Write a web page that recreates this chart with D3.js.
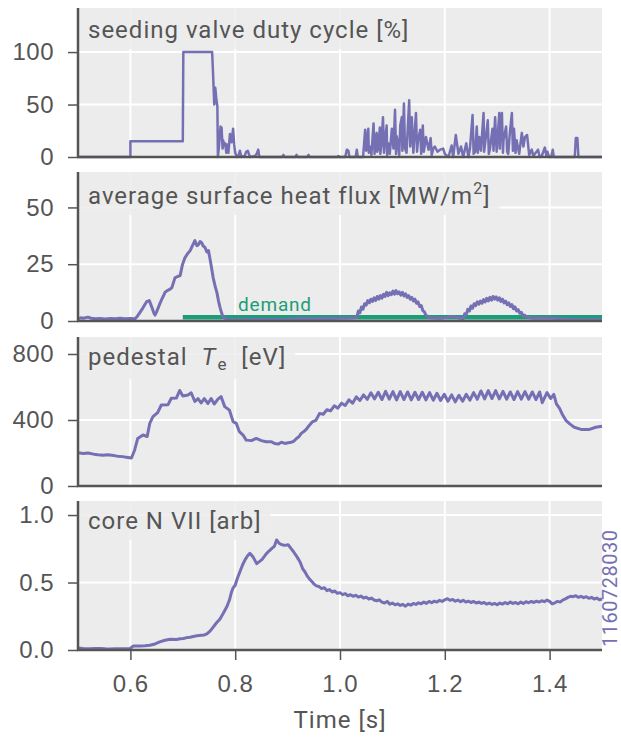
<!DOCTYPE html>
<html>
<head>
<meta charset="utf-8">
<script src="https://cdn.jsdelivr.net/npm/d3@7"></script>
<style>
body{margin:0;background:#fff;}
svg{display:block;font-family:Roboto, "Liberation Sans", sans-serif;}
</style>
</head>
<body>
<svg id="chart"></svg>
<script>
// time [s], value
var dutyCycle = [[0.500,0],[0.600,0],[0.600,15],[0.700,15],[0.701,100],[0.756,100],[0.758,76],[0.760,50],[0.762,66],[0.764,55],[0.766,48],[0.767,0],[0.769,10],[0.772,29],[0.774,28],[0.776,8],[0.777,16],[0.779,11],[0.781,13],[0.783,4],[0.785,12],[0.787,4],[0.790,22],[0.793,14],[0.796,27],[0.798,12],[0.800,4],[0.803,0],[0.806,1],[0.809,6],[0.812,0],[0.818,1],[0.821,5],[0.824,6],[0.828,0],[0.838,1],[0.841,3],[0.844,7],[0.846,0],
  [0.889,0],[0.892,2],[0.894,0],[0.915,0],[0.917,2],[0.919,0],[0.937,0],[0.940,2],[0.942,0],[0.995,0],[0.997,1],[0.999,0],[1.010,0],[1.013,7],[1.016,6],[1.018,0],[1.030,0],[1.032,7],[1.034,0],[1.044,0],
  [1.048,26],[1.050,6],[1.051,12],[1.054,27],[1.055,4],[1.057,10],[1.060,2],[1.064,32],[1.066,3],[1.067,14],[1.070,23],[1.071,5],[1.073,8],[1.076,28],[1.077,3],[1.079,12],[1.082,38],[1.084,4],[1.086,16],[1.089,30],[1.090,2],[1.092,13],[1.095,3],[1.099,27],[1.102,8],[1.105,45],[1.107,3],[1.108,20],[1.111,13],[1.113,2],[1.115,30],[1.118,38],[1.119,6],[1.120,22],[1.122,51],[1.124,8],[1.127,4],[1.132,54],[1.134,10],[1.137,38],[1.140,4],[1.145,42],[1.147,5],[1.149,16],[1.153,26],[1.155,3],[1.158,30],[1.160,5],[1.164,19],[1.169,7],[1.173,18],[1.175,2],[1.178,8],[1.181,10],[1.186,5],[1.191,7],[1.197,8],[1.200,3],[1.207,0],[1.213,11],[1.216,0],[1.221,21],[1.226,3],[1.231,10],[1.235,0],[1.241,13],[1.245,0],[1.248,8],[1.253,40],[1.255,3],[1.258,5],[1.261,29],[1.263,4],[1.266,19],[1.269,6],[1.274,42],[1.275,5],[1.277,13],[1.282,35],[1.284,3],[1.286,7],[1.291,27],[1.293,6],[1.296,38],[1.299,5],[1.304,42],[1.305,8],[1.306,20],[1.309,42],[1.311,4],[1.312,16],[1.317,29],[1.319,5],[1.321,3],[1.324,22],[1.328,42],[1.330,6],[1.332,27],[1.335,4],[1.337,16],[1.342,3],[1.347,23],[1.350,10],[1.353,19],[1.357,21],[1.361,2],[1.366,7],[1.369,1],[1.372,3],[1.378,7],[1.381,0],[1.385,1],[1.391,9],[1.394,1],[1.396,5],[1.399,0],[1.403,0],[1.406,7],[1.408,0],[1.448,0],[1.450,18],[1.453,18],[1.455,0],[1.500,0]];

var heatFlux = [[0.500,1.0],[0.505,1.4],[0.510,1.2],[0.519,1.7],[0.525,1.2],[0.533,1.0],[0.542,1.1],[0.552,0.9],[0.562,1.1],[0.572,1.0],[0.580,1.2],[0.590,1.0],[0.600,1.1],[0.609,1.0],[0.613,2.0],[0.618,3.7],[0.624,5.8],[0.628,7.4],[0.631,8.5],[0.636,9.0],[0.641,6.0],[0.645,3.4],[0.647,2.6],[0.650,4.0],[0.656,7.5],[0.660,9.6],[0.663,11.0],[0.666,12.6],[0.669,13.2],[0.674,13.8],[0.679,14.6],[0.682,16.8],[0.685,19.0],[0.690,19.6],[0.695,20.0],[0.699,24.5],[0.704,27.8],[0.709,29.6],[0.714,31.0],[0.718,33.0],[0.723,35.4],[0.727,33.2],[0.730,33.6],[0.733,35.0],[0.736,34.5],[0.739,33.0],[0.742,32.5],[0.746,30.4],[0.749,31.0],[0.753,26.0],[0.758,19.0],[0.762,15.0],[0.765,12.6],[0.768,9.0],[0.771,6.0],[0.774,3.6],[0.776,2.2],[0.780,1.2],[0.784,0.7],[0.800,0.5],[0.828,0.6],[0.860,0.7],[0.900,0.8],[0.924,1.0],[0.960,1.0],[1.000,1.2],[1.020,1.3],[1.032,1.5],
  [1.035,4.4],[1.038,3.6],[1.041,6.2],[1.044,5.2],[1.047,7.6],[1.050,7.0],[1.053,9.0],[1.056,8.0],[1.059,9.6],[1.062,8.6],[1.065,10.2],[1.068,9.0],[1.071,10.8],[1.074,9.6],[1.077,11.2],[1.080,10.0],[1.083,11.8],[1.086,10.8],[1.089,12.6],[1.092,11.2],[1.095,12.4],[1.098,11.6],[1.101,13.2],[1.104,11.8],[1.107,13.4],[1.110,12.0],[1.113,12.8],[1.116,11.4],[1.119,12.6],[1.122,11.0],[1.125,12.0],[1.128,10.4],[1.131,11.2],[1.134,9.6],[1.137,10.4],[1.140,8.8],[1.143,9.6],[1.146,7.8],[1.149,8.4],[1.152,6.4],[1.155,6.8],[1.158,4.6],[1.161,4.0],[1.164,2.6],[1.168,1.8],[1.172,1.4],[1.191,1.2],[1.205,1.6],[1.216,2.0],[1.225,1.4],[1.235,1.0],
  [1.238,3.2],[1.241,2.8],[1.244,5.2],[1.247,4.4],[1.250,6.6],[1.253,5.6],[1.256,7.6],[1.259,6.8],[1.262,8.4],[1.265,7.4],[1.268,8.8],[1.271,7.8],[1.274,9.4],[1.277,8.4],[1.280,10.0],[1.283,8.8],[1.286,10.4],[1.289,9.2],[1.292,10.8],[1.295,9.6],[1.298,10.6],[1.301,9.2],[1.304,10.2],[1.307,8.6],[1.310,9.6],[1.313,8.0],[1.316,8.8],[1.319,7.2],[1.322,8.0],[1.325,6.4],[1.328,7.2],[1.331,5.4],[1.334,6.2],[1.337,4.4],[1.340,5.0],[1.343,3.4],[1.346,3.8],[1.349,2.4],[1.352,2.6],[1.356,1.8],[1.362,1.4],[1.369,1.2],[1.390,1.3],[1.407,1.2],[1.433,0.8],[1.460,0.6],[1.500,0.5]];

var fluxDemand = [[0.700,1.6],[1.500,1.6]];

var pedestalTe = [[0.500,201],[0.510,197],[0.519,200],[0.530,193],[0.538,190],[0.548,187],[0.556,190],[0.565,186],[0.575,181],[0.585,178],[0.595,173],[0.602,170],[0.608,217],[0.614,288],[0.624,309],[0.632,300],[0.637,380],[0.643,420],[0.652,445],[0.659,491],[0.672,493],[0.678,532],[0.688,534],[0.694,579],[0.700,546],[0.710,552],[0.716,565],[0.723,512],[0.729,530],[0.735,503],[0.741,530],[0.748,500],[0.754,530],[0.760,497],[0.767,526],[0.773,542],[0.780,481],[0.789,460],[0.796,390],[0.802,380],[0.808,329],[0.815,309],[0.821,278],[0.831,275],[0.840,288],[0.850,275],[0.859,268],[0.869,268],[0.875,258],[0.882,254],[0.888,265],[0.895,258],[0.901,262],[0.907,265],[0.912,272],[0.917,288],[0.922,300],[0.926,319],[0.931,330],[0.936,345],
  [0.940,362],[0.947,388],[0.954,398],[0.961,440],[0.968,435],[0.975,462],[0.982,455],[0.989,486],[0.996,472],[1.003,502],[1.010,488],[1.017,522],[1.024,502],[1.031,540],[1.038,518],[1.045,552],[1.052,525],[1.059,565],[1.066,528],[1.073,568],[1.080,524],[1.087,574],[1.094,526],[1.101,572],[1.108,522],[1.115,572],[1.122,524],[1.129,570],[1.136,522],[1.143,568],[1.150,524],[1.157,568],[1.164,522],[1.171,566],[1.178,520],[1.185,562],[1.192,518],[1.199,556],[1.206,514],[1.213,552],[1.220,510],[1.227,550],[1.234,514],[1.241,556],[1.248,520],[1.255,566],[1.262,526],[1.269,576],[1.276,528],[1.283,578],[1.290,530],[1.297,578],[1.304,528],[1.311,574],[1.318,526],[1.325,570],[1.332,524],[1.339,572],[1.346,526],[1.353,572],[1.360,526],[1.367,570],[1.374,524],[1.381,570],[1.386,505],[1.390,532],[1.395,566],[1.402,530],[1.408,555],[1.413,498],[1.419,470],[1.425,430],[1.431,398],[1.439,375],[1.447,356],[1.460,343],[1.476,343],[1.488,356],[1.500,362]];

var coreN7 = [[0.500,0.015],[0.510,0.012],[0.523,0.010],[0.533,0.012],[0.542,0.012],[0.552,0.009],[0.561,0.008],[0.570,0.010],[0.580,0.010],[0.590,0.009],[0.599,0.010],[0.603,0.022],[0.606,0.030],[0.618,0.030],[0.628,0.032],[0.637,0.035],[0.647,0.045],[0.656,0.060],[0.666,0.072],[0.676,0.080],[0.688,0.078],[0.695,0.084],[0.701,0.085],[0.708,0.092],[0.714,0.095],[0.720,0.100],[0.727,0.105],[0.736,0.110],[0.741,0.112],[0.746,0.120],[0.752,0.140],[0.758,0.170],[0.764,0.200],[0.771,0.230],[0.777,0.270],[0.784,0.320],[0.789,0.370],[0.793,0.430],[0.796,0.460],[0.800,0.480],[0.804,0.530],[0.809,0.580],[0.814,0.630],[0.819,0.670],[0.824,0.700],[0.828,0.716],[0.834,0.690],[0.841,0.640],[0.846,0.655],[0.851,0.670],[0.856,0.695],[0.860,0.716],[0.865,0.735],[0.870,0.753],[0.875,0.770],[0.879,0.815],[0.884,0.790],[0.889,0.780],[0.895,0.775],[0.901,0.780],[0.906,0.755],[0.911,0.730],[0.918,0.690],[0.924,0.650],[0.929,0.600],[0.933,0.580],[0.938,0.545],[0.943,0.520],[0.948,0.500],
  [0.950,0.490],[0.955,0.475],[0.960,0.470],[0.965,0.455],[0.970,0.462],[0.975,0.440],[0.980,0.448],[0.985,0.430],[0.990,0.437],[0.995,0.420],[1.000,0.425],[1.005,0.410],[1.010,0.418],[1.015,0.402],[1.020,0.410],[1.025,0.398],[1.030,0.405],[1.035,0.392],[1.040,0.400],[1.045,0.385],[1.050,0.392],[1.055,0.378],[1.060,0.385],[1.065,0.370],[1.070,0.365],[1.075,0.372],[1.080,0.355],[1.085,0.348],[1.090,0.360],[1.095,0.340],[1.100,0.348],[1.105,0.335],[1.110,0.342],[1.115,0.330],[1.120,0.338],[1.125,0.325],[1.130,0.340],[1.135,0.332],[1.140,0.345],[1.145,0.338],[1.150,0.350],[1.155,0.342],[1.160,0.355],[1.165,0.345],[1.170,0.360],[1.175,0.350],[1.180,0.362],[1.185,0.355],[1.190,0.368],[1.195,0.360],[1.200,0.372],[1.205,0.380],[1.210,0.368],[1.215,0.375],[1.220,0.362],[1.225,0.370],[1.230,0.358],[1.235,0.368],[1.240,0.355],[1.245,0.362],[1.250,0.352],[1.255,0.360],[1.260,0.348],[1.265,0.355],[1.270,0.345],[1.275,0.352],[1.280,0.340],[1.285,0.348],[1.290,0.338],[1.295,0.345],[1.300,0.335],[1.305,0.348],[1.310,0.340],[1.315,0.352],[1.320,0.342],[1.325,0.355],[1.330,0.345],[1.335,0.352],[1.340,0.342],[1.345,0.355],[1.350,0.345],[1.355,0.358],[1.360,0.350],[1.365,0.360],[1.370,0.352],[1.375,0.362],[1.380,0.355],[1.385,0.365],[1.390,0.358],[1.395,0.370],[1.400,0.360],[1.405,0.342],[1.410,0.350],[1.415,0.360],[1.420,0.355],[1.425,0.370],[1.430,0.378],[1.435,0.390],[1.440,0.398],[1.445,0.395],[1.450,0.402],[1.455,0.390],[1.460,0.398],[1.465,0.388],[1.470,0.395],[1.475,0.383],[1.480,0.390],[1.485,0.378],[1.490,0.385],[1.495,0.372],[1.500,0.378]];

var timeTicks = [0.6, 0.8, 1.0, 1.2, 1.4];
var dutyTicks = [0, 50, 100];
var fluxTicks = [0, 25, 50];
var teTicks = [0, 400, 800];
var coreTicks = [0, 0.5, 1.0];

var shotNumber = '1160728030';

// layout
var width = 621, height = 738;
var left = 78, right = 602, panelH = 149;
var panelTops = [8, 172, 337, 501];
var titleBase = [30, 32, 28, 28];
var purple = '#7570b3', green = '#1b9e77', ink = '#555555', bg = '#ececec';

var svg = d3.select('#chart').attr('width', width).attr('height', height);
var x = d3.scaleLinear().domain([0.5, 1.5]).range([left, right]);

var panels = [
    {data: dutyCycle, ymax: 142, ticks: dutyTicks, fmt: d3.format('d'),
     title: [{t: 'seeding valve duty cycle [%]'}]},
    {data: heatFlux, ymax: 65.6, ticks: fluxTicks, fmt: d3.format('d'),
     title: [{t: 'average surface heat flux [MW/m'}, {t: '2', sup: true}, {t: ']'}]},
    {data: pedestalTe, ymax: 903, ticks: teTicks, fmt: d3.format('d'),
     title: [{t: 'pedestal  '}, {t: 'T', it: true}, {t: 'e', sub: true}, {t: '  [eV]'}]},
    {data: coreN7, ymax: 1.104, ticks: coreTicks, fmt: d3.format('.1f'),
     title: [{t: 'core N VII [arb]'}]}
];

panels.forEach(function(p, i){
    var top = panelTops[i], bottom = top + panelH;
    var y = d3.scaleLinear().domain([0, p.ymax]).range([bottom, top]);
    var g = svg.append('g');

    g.append('rect')
        .attr('x', left).attr('y', top)
        .attr('width', right - left).attr('height', panelH)
        .attr('fill', bg);

    // white grid
    g.selectAll('line.vgrid').data(timeTicks).enter().append('line')
        .attr('x1', function(d){ return x(d); }).attr('x2', function(d){ return x(d); })
        .attr('y1', top).attr('y2', bottom)
        .attr('stroke', '#fff').attr('stroke-width', 2);
    g.selectAll('line.hgrid').data(p.ticks.filter(function(d){ return d > 0; })).enter().append('line')
        .attr('x1', left).attr('x2', right)
        .attr('y1', function(d){ return y(d); }).attr('y2', function(d){ return y(d); })
        .attr('stroke', '#fff').attr('stroke-width', 2);

    // title with its own box
    var title = g.append('text')
        .attr('x', 88).attr('y', top + titleBase[i])
        .attr('font-size', 24).attr('fill', ink)
        .attr('letter-spacing', 1)
        .style('white-space', 'pre');
    var shift = 0;
    p.title.forEach(function(s){
        var ts = title.append('tspan').text(s.t);
        if(s.it) ts.attr('font-style', 'italic');
        if(s.sup){ ts.attr('font-size', 16).attr('dy', -10); shift = 10; }
        else if(s.sub){ ts.attr('font-size', 17).attr('dy', 5).attr('dx', 1); shift = -5; }
        else if(shift){ ts.attr('dy', shift); shift = 0; }
    });
    var bb = title.node().getBBox();
    g.insert('rect', 'text')
        .attr('x', left + 1).attr('y', top)
        .attr('width', bb.x + bb.width + 9 - left - 1)
        .attr('height', bb.y + bb.height + 5 - top)
        .attr('fill', bg).attr('opacity', 0.85);

    if(i == 1){
        g.append('path').datum(fluxDemand)
            .attr('fill', 'none').attr('stroke', green).attr('stroke-width', 4.5)
            .attr('d', d3.line().x(function(d){ return x(d[0]); }).y(function(d){ return y(d[1]); }));
        g.append('text')
            .attr('x', x(0.8055)).attr('y', y(4.4))
            .attr('font-size', 19).attr('letter-spacing', 0.8).attr('fill', green)
            .text('demand');
    }

    g.append('path').datum(p.data)
        .attr('fill', 'none').attr('stroke', purple)
        .attr('stroke-width', i == 0 ? 2.5 : 3)
        .attr('stroke-linejoin', 'round')
        .attr('d', d3.line().x(function(d){ return x(d[0]); }).y(function(d){ return y(d[1]); }));

    // y axis
    var ya = g.append('g')
        .attr('transform', 'translate(' + left + ',0)')
        .call(d3.axisLeft(y).tickValues(p.ticks).tickFormat(p.fmt).tickSize(10).tickPadding(14));
    ya.select('.domain').remove();
    ya.selectAll('line').attr('stroke', ink).attr('stroke-width', 1.5);
    ya.selectAll('text').attr('fill', ink).attr('font-size', 24).attr('font-family', null)
        .attr('letter-spacing', 0.5);

    // spines
    g.append('line').attr('x1', left).attr('x2', left).attr('y1', top).attr('y2', bottom + 1)
        .attr('stroke', ink).attr('stroke-width', 2.5);
    g.append('line').attr('x1', left - 1).attr('x2', right).attr('y1', bottom).attr('y2', bottom)
        .attr('stroke', ink).attr('stroke-width', 2.5);

    if(i == panels.length - 1){
        var xa = g.append('g')
            .attr('transform', 'translate(0,' + bottom + ')')
            .call(d3.axisBottom(x).tickValues(timeTicks).tickFormat(d3.format('.1f')).tickSize(10).tickPadding(15));
        xa.select('.domain').remove();
        xa.selectAll('line').attr('stroke', ink).attr('stroke-width', 1.5);
        xa.selectAll('text').attr('fill', ink).attr('font-size', 24).attr('font-family', null)
            .attr('letter-spacing', 1);

        svg.append('text')
            .attr('x', x(1.0)).attr('y', 728)
            .attr('text-anchor', 'middle')
            .attr('font-size', 24).attr('letter-spacing', 1).attr('fill', ink)
            .text('Time [s]');

        svg.append('text')
            .attr('transform', 'translate(617,' + (bottom - 3) + ') rotate(-90)')
            .attr('font-size', 20).attr('letter-spacing', 0.5).attr('fill', purple)
            .text(shotNumber);
    }
});
</script>
</body>
</html>
